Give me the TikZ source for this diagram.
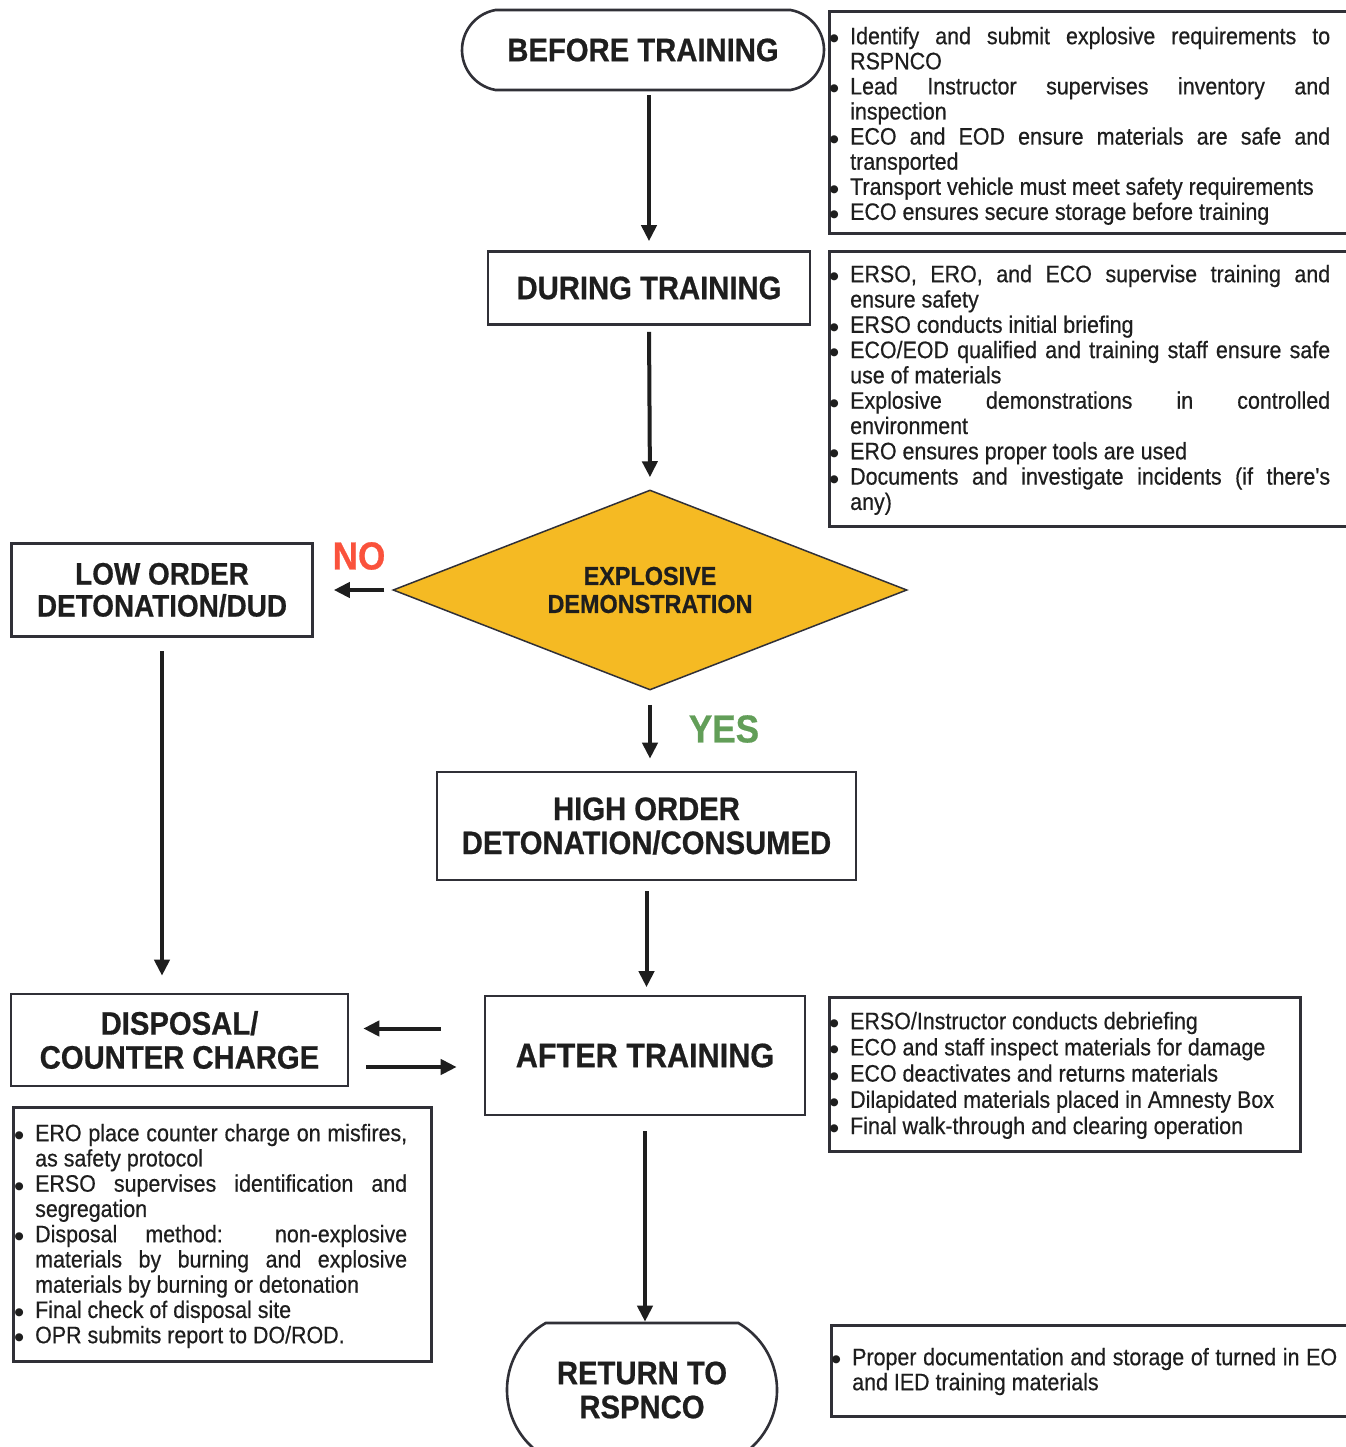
\documentclass[tikz,border=0pt]{standalone}
\usepackage{fontspec}
\setmainfont{Liberation Sans}[FakeStretch=0.9, BoldFeatures={FakeBold=0.6}]
\newfontfamily\infofont{Liberation Sans}[FakeStretch=0.9, FakeBold=0.5]
\newfontfamily\symfont{DejaVu Sans}
\usetikzlibrary{shapes.geometric,shapes.misc,arrows.meta}
\definecolor{gold}{RGB}{245,186,35}
\definecolor{nored}{RGB}{250,82,60}
\definecolor{yesgreen}{RGB}{98,158,88}
\definecolor{ink}{RGB}{30,30,30}
\definecolor{edge}{RGB}{48,48,55}
\newcommand\bul{\makebox[22pt][l]{\kern1.5pt\raisebox{2.5pt}{\symfont\fontsize{10.5}{10.5}\selectfont ●}}}
\newcommand\ind{\hspace*{22pt}}
\newcommand\jla[1]{\makebox[480pt][s]{#1}}
\newcommand\jlb[1]{\makebox[372pt][s]{#1}}
\newcommand\jlc[1]{\makebox[485pt][s]{#1}}
\newcommand\fr{\rule{0pt}{18pt}}
\tikzset{
  titlebox/.style={draw=edge, line width=2.6pt, text=ink, align=center, inner sep=0pt,
    font=\bfseries\fontsize{32.5}{34}\selectfont},
  infobox/.style={draw=edge, line width=2.6pt, inner sep=0pt, anchor=north west},
  infotext/.style={anchor=north west, inner sep=0pt, align=left, text=ink},
  arr/.style={draw=ink, line width=4pt, -{Triangle[length=16pt,width=15pt]}},
  lbl/.style={font=\bfseries\fontsize{39}{40}\selectfont, inner sep=0pt},
}
\begin{document}
\begin{tikzpicture}[x=1pt,y=-1pt]
\useasboundingbox (0,0) rectangle (1345,1447);
\fill[white] (0,0) rectangle (1345,1447);

% main flow nodes
\node[titlebox, rounded rectangle, rounded rectangle arc length=160,
      minimum width=362, minimum height=80] (before) at (643,50) {BEFORE TRAINING};
\node[titlebox, minimum width=322, minimum height=73] (during) at (649,288) {DURING TRAINING};
\node[diamond, draw=edge, line width=1.5pt, fill=gold, aspect=2.57, inner sep=0pt,
      minimum width=514, minimum height=200, text=ink, align=center,
      font=\bfseries\fontsize{26}{28}\selectfont] (demo) at (650,590)
      {EXPLOSIVE\\DEMONSTRATION};
\node[titlebox, minimum width=301, minimum height=93,
      font=\bfseries\fontsize{31}{32}\selectfont] (low) at (162,590) {LOW ORDER\\DETONATION/DUD};
\node[titlebox, minimum width=419, minimum height=108] (high) at (646.5,826)
      {HIGH ORDER\\DETONATION/CONSUMED};
\node[titlebox, minimum width=320, minimum height=119,
      font=\bfseries\fontsize{34}{36}\selectfont] (after) at (645,1055.5) {AFTER TRAINING};
\node[titlebox, minimum width=337, minimum height=92] (disp) at (179.5,1040)
      {DISPOSAL/\\COUNTER CHARGE};
\node[titlebox, rounded rectangle, rounded rectangle arc length=120,
      minimum width=270, minimum height=134] (ret) at (642,1390) {RETURN TO\\RSPNCO};

% labels
\node[lbl, text=nored] (no) at (359,556) {NO};
\node[lbl, text=yesgreen] (yes) at (724,729) {YES};

% connectors
\draw[arr, shorten <=4pt, shorten >=9pt] (before.south -| during.north) -- (during.north);
\draw[arr, shorten <=6pt, shorten >=12pt] (during.south) -- (demo.north);
\draw[arr, shorten <=8pt, shorten >=20pt] (demo.west) -- (low.east);
\draw[arr, shorten <=14pt, shorten >=12pt] (demo.south) -- (demo.south |- high.north);
\draw[arr, shorten <=10pt, shorten >=7.5pt] (high.south) -- (high.south |- after.north);
\draw[arr, shorten <=13.5pt, shorten >=17pt] (low.south) -- (low.south |- disp.north);
\draw[arr, shorten <=43pt, shorten >=14pt] ([yshift=27pt]after.west) -- ([yshift=27pt]after.west -| disp.east);
\draw[arr, shorten <=17pt, shorten >=27pt] ([yshift=-11.5pt]after.west -| disp.east) -- ([yshift=-11.5pt]after.west);
\draw[arr, shorten <=15pt] (after.south) -- (after.south |- ret.north);

% info boxes
\node[infobox, minimum width=530, minimum height=222] (b1) at (828,10) {};
\node[infobox, minimum width=530, minimum height=275] (b2) at (828,250) {};
\node[infobox, minimum width=471, minimum height=154] (b3) at (828,996) {};
\node[infobox, minimum width=418, minimum height=254] (b4) at (12,1106) {};
\node[infobox, minimum width=530, minimum height=91] (b5) at (830,1324) {};

\node[infotext, font=\infofont\fontsize{23.8}{25.1}\selectfont] (t1) at (828,26) {%
\fr\bul\jla{Identify and submit explosive requirements to}\\
\ind RSPNCO\\
\bul\jla{Lead Instructor supervises inventory and}\\
\ind inspection\\
\bul\jla{ECO and EOD ensure materials are safe and}\\
\ind transported\\
\bul Transport vehicle must meet safety requirements\\
\bul ECO ensures secure storage before training};

\node[infotext, font=\infofont\fontsize{23.8}{25.3}\selectfont] (t2) at (828,264) {%
\fr\bul\jla{ERSO, ERO, and ECO supervise training and}\\
\ind ensure safety\\
\bul ERSO conducts initial briefing\\
\bul\jla{ECO/EOD qualified and training staff ensure safe}\\
\ind use of materials\\
\bul\jla{Explosive demonstrations in controlled}\\
\ind environment\\
\bul ERO ensures proper tools are used\\
\bul\jla{Documents and investigate incidents (if there's}\\
\ind any)};

\node[infotext, font=\infofont\fontsize{23.8}{26.2}\selectfont] (t3) at (828,1011) {%
\fr\bul ERSO/Instructor conducts debriefing\\
\bul ECO and staff inspect materials for damage\\
\bul ECO deactivates and returns materials\\
\bul Dilapidated materials placed in Amnesty Box\\
\bul Final walk-through and clearing operation};

\node[infotext, font=\infofont\fontsize{23.8}{25.25}\selectfont] (t4) at (13,1123) {%
\fr\bul\jlb{ERO place counter charge on misfires,}\\
\ind as safety protocol\\
\bul\jlb{ERSO supervises identification and}\\
\ind segregation\\
\bul\jlb{Disposal method: non-explosive}\\
\ind\jlb{materials by burning and explosive}\\
\ind materials by burning or detonation\\
\bul Final check of disposal site\\
\bul OPR submits report to DO/ROD.};

\node[infotext, font=\infofont\fontsize{23.8}{25}\selectfont] (t5) at (830,1347) {%
\fr\bul\jlc{Proper documentation and storage of turned in EO}\\
\ind and IED training materials};
\end{tikzpicture}
\end{document}
